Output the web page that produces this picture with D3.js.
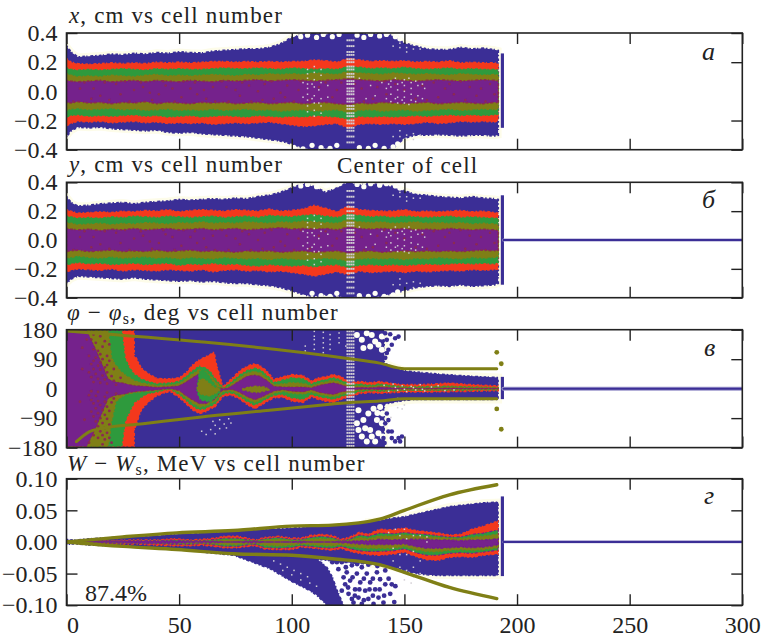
<!DOCTYPE html>
<html><head><meta charset="utf-8">
<script src="https://cdn.jsdelivr.net/npm/d3@7"></script>
<style>html,body{margin:0;padding:0;background:#fff}svg{display:block}text{font-family:"Liberation Serif",serif;fill:#222}</style>
</head><body><div id="chart"></div>
<script>
// ---------- tick labels ----------
const cellTicks = [0,50,100,150,200,250,300];
const xyTicks = [-0.4,-0.2,0,0.2,0.4];
const phaseTicks = [-180,-90,0,90,180];
const energyTicks = [-0.10,-0.05,0,0.05,0.10];

// ---------- panel a / b : transverse coordinates ----------
const xyCells = [0,2,5,10,15,20,25,30,35,40,45,50,55,60,65,70,75,80,85,90,95,100,105,110,115,120,125,130,135,140,145,150,155,160,165,170,175,180,185,190,191.6];
const xBlueUp = [.31,.27,.235,.24,.245,.255,.25,.26,.255,.265,.26,.27,.265,.262,.275,.28,.285,.29,.29,.30,.325,.37,.39,.40,.39,.40,.40,.40,.39,.40,.38,.33,.31,.29,.285,.285,.30,.29,.295,.285,.28];
const xBlueLow = [-.31,-.27,-.245,-.25,-.245,-.255,-.26,-.265,-.27,-.265,-.28,-.285,-.28,-.29,-.295,-.30,-.305,-.31,-.32,-.33,-.34,-.36,-.39,-.40,-.39,-.40,-.40,-.40,-.40,-.40,-.39,-.32,-.30,-.30,-.295,-.30,-.305,-.30,-.30,-.305,-.30];
const xRedUp = [.225,.20,.19,.185,.19,.195,.19,.195,.19,.20,.195,.20,.195,.20,.205,.205,.20,.205,.20,.205,.20,.205,.205,.215,.21,.20,.225,.215,.205,.21,.205,.21,.20,.205,.20,.21,.195,.20,.195,.195,.19];
const xRedLow = [-.235,-.22,-.205,-.21,-.205,-.215,-.21,-.205,-.215,-.21,-.22,-.215,-.22,-.215,-.225,-.22,-.215,-.22,-.215,-.21,-.22,-.23,-.24,-.235,-.225,-.22,-.25,-.225,-.22,-.225,-.22,-.225,-.22,-.21,-.22,-.215,-.205,-.21,-.205,-.21,-.20];
const xGreenUp = [.16,.15,.145,.15,.145,.15,.155,.15,.145,.155,.15,.155,.15,.15,.155,.16,.155,.155,.16,.155,.15,.16,.155,.15,.155,.15,.17,.165,.155,.16,.155,.165,.155,.15,.155,.16,.15,.155,.15,.15,.145];
const xGreenLow = [-.175,-.165,-.16,-.17,-.165,-.17,-.165,-.16,-.17,-.165,-.175,-.17,-.165,-.175,-.17,-.165,-.17,-.175,-.165,-.17,-.175,-.17,-.175,-.165,-.17,-.175,-.19,-.17,-.175,-.17,-.175,-.17,-.165,-.17,-.165,-.16,-.165,-.16,-.165,-.16,-.155];
const xOliveUp = [.12,.11,.10,.105,.10,.11,.105,.10,.11,.115,.105,.11,.105,.11,.115,.11,.105,.115,.11,.12,.115,.12,.115,.125,.12,.115,.135,.125,.12,.115,.125,.12,.115,.12,.115,.11,.12,.115,.11,.115,.11];
const xOliveLow = [-.13,-.12,-.115,-.125,-.12,-.115,-.125,-.12,-.13,-.125,-.12,-.13,-.125,-.13,-.12,-.13,-.125,-.12,-.13,-.125,-.135,-.13,-.125,-.135,-.13,-.125,-.145,-.13,-.125,-.135,-.13,-.125,-.135,-.13,-.125,-.12,-.13,-.125,-.12,-.125,-.12];
const xPurpleUp = [.075,.07,.065,.07,.075,.065,.07,.075,.065,.075,.07,.065,.075,.07,.065,.075,.07,.075,.08,.07,.075,.08,.075,.07,.075,.08,.085,.08,.075,.07,.08,.075,.07,.075,.08,.075,.07,.075,.08,.075,.07];
const xPurpleLow = [-.075,-.08,-.07,-.08,-.075,-.085,-.075,-.08,-.07,-.085,-.075,-.08,-.085,-.075,-.08,-.075,-.085,-.08,-.075,-.085,-.08,-.075,-.085,-.08,-.075,-.085,-.09,-.08,-.085,-.075,-.08,-.085,-.08,-.075,-.085,-.08,-.075,-.08,-.085,-.075,-.08];

const yBlueUp = [.30,.26,.235,.24,.25,.255,.26,.25,.26,.265,.27,.28,.275,.28,.285,.28,.29,.285,.30,.31,.33,.36,.39,.37,.33,.36,.40,.38,.39,.38,.37,.34,.315,.31,.30,.295,.29,.30,.29,.285,.28];
const yBlueLow = [-.30,-.27,-.25,-.255,-.26,-.265,-.27,-.26,-.27,-.275,-.28,-.285,-.28,-.29,-.285,-.295,-.30,-.30,-.31,-.315,-.33,-.35,-.38,-.39,-.38,-.39,-.40,-.39,-.40,-.39,-.37,-.35,-.33,-.32,-.315,-.32,-.31,-.32,-.315,-.31,-.30];
const yRedUp = [.21,.20,.185,.19,.195,.19,.20,.195,.205,.20,.21,.195,.205,.21,.205,.20,.21,.205,.20,.215,.20,.205,.215,.24,.22,.195,.235,.21,.205,.20,.20,.21,.195,.20,.195,.20,.205,.195,.20,.19,.185];
const yRedLow = [-.22,-.21,-.20,-.205,-.21,-.20,-.215,-.205,-.21,-.215,-.205,-.21,-.215,-.205,-.22,-.21,-.205,-.215,-.21,-.22,-.215,-.225,-.235,-.25,-.235,-.22,-.24,-.215,-.225,-.22,-.215,-.225,-.215,-.22,-.215,-.21,-.215,-.205,-.21,-.205,-.20];
const yGreenUp = [.165,.16,.15,.155,.15,.16,.155,.165,.16,.155,.165,.16,.155,.16,.165,.155,.16,.165,.155,.17,.165,.16,.17,.175,.165,.155,.18,.17,.16,.165,.155,.165,.16,.155,.16,.165,.155,.16,.155,.15,.15];
const yGreenLow = [-.17,-.165,-.155,-.165,-.16,-.17,-.165,-.16,-.17,-.165,-.16,-.175,-.165,-.17,-.16,-.17,-.165,-.175,-.18,-.17,-.175,-.18,-.175,-.185,-.175,-.17,-.19,-.175,-.17,-.175,-.17,-.175,-.17,-.165,-.17,-.165,-.16,-.165,-.16,-.165,-.155];
const yOliveUp = [.12,.115,.105,.11,.115,.105,.115,.11,.12,.115,.11,.12,.115,.125,.115,.12,.115,.125,.12,.115,.125,.12,.13,.125,.12,.115,.14,.125,.12,.125,.115,.12,.125,.115,.12,.115,.12,.11,.115,.11,.105];
const yOliveLow = [-.125,-.12,-.11,-.12,-.125,-.115,-.125,-.12,-.115,-.125,-.12,-.13,-.12,-.125,-.13,-.12,-.125,-.13,-.125,-.135,-.125,-.13,-.135,-.13,-.125,-.13,-.145,-.13,-.125,-.13,-.125,-.135,-.125,-.13,-.12,-.125,-.13,-.12,-.125,-.12,-.115];
const yPurpleUp = [.08,.075,.07,.075,.065,.075,.07,.08,.07,.075,.08,.07,.075,.08,.07,.075,.08,.07,.075,.08,.085,.075,.08,.075,.08,.07,.09,.08,.075,.08,.075,.08,.07,.075,.07,.08,.075,.07,.075,.07,.065];
const yPurpleLow = [-.08,-.075,-.07,-.08,-.075,-.07,-.08,-.075,-.08,-.07,-.08,-.075,-.07,-.08,-.075,-.08,-.085,-.075,-.08,-.075,-.085,-.08,-.075,-.085,-.08,-.075,-.09,-.08,-.075,-.085,-.08,-.075,-.08,-.075,-.08,-.075,-.08,-.075,-.07,-.075,-.07];

const xyHoles = [[101,.395],[104,.375],[107,.385],[111,.37],[114,.39],[118,.375],[121,.39],[129,.385],[132,.37],[135,.39],[139,.38],[142,.39],[146,.375],[148,.36],[101,-.385],[105,-.395],[109,-.37],[113,-.385],[117,-.39],[120,-.37],[130,-.385],[134,-.39],[137,-.37],[141,-.39],[145,-.38],[147,-.36]];
const xyGrey = [[107,.15],[107,.12],[107,.09],[107,.05],[107,.02],[107,-.02],[107,-.06],[107,-.1],[107,-.14],[110,.17],[110,.13],[110,.08],[110,.03],[110,-.03],[110,-.08],[110,-.13],[110,-.17],[113,.15],[113,.11],[113,.06],[113,-.05],[113,-.1],[113,-.15],[116,.04],[116,-.04],[130,.09],[133,-.05],[135,.04],[137,-.03],[140,.06],[142,.02],[142,-.05],[144,.07],[144,.03],[144,-.02],[144,-.07],[147,.05],[147,.01],[147,-.04],[147,-.08],[150,.08],[150,.04],[150,0],[150,-.04],[150,-.08],[153,.06],[153,.02],[153,-.02],[153,-.06],[156,.04],[156,-.03],[159,.02],[145,.31],[148,.3],[151,.3],[154,.29],[157,.29],[145,-.31],[148,-.31],[151,-.3],[154,-.29],[157,-.3],[148,.33],[151,.27],[148,-.27],[154,-.33],[105,.06],[105,-.04],[109,.05],[109,-.05],[112,.01],[112,-.08],[146,.09],[149,.06],[149,-.06],[152,.09],[152,-.09],[155,.07],[155,-.07],[158,.05],[158,-.05],[143,.05],[146,-.05]];
const xyMaroon = [[8,.06],[15,-.03],[22,.05],[30,.01],[38,-.06],[44,.04],[52,.07],[58,-.02],[65,.03],[72,-.07],[78,.06],[85,0],[92,-.05],[98,.04],[104,.07],[118,-.04],[122,.06],[132,-.07],[138,.03],[146,.05],[160,-.06],[168,.02],[175,.07],[182,-.03],[188,.05],[3,-.07],[12,.02],[19,-.06],[26,.07],[34,.03],[41,-.02],[48,-.07],[55,.02],[62,-.05],[69,.07],[75,.01],[82,-.07],[88,.05],[95,-.01],[101,-.07],[112,.03],[128,.05],[142,-.02],[155,-.05],[163,.06],[172,-.02],[179,.03],[186,-.07],
[6,.02],[11,-.05],[17,.06],[24,-.02],[28,-.07],[33,.06],[37,-.01],[43,.07],[47,.02],[51,-.04],[57,.06],[61,.01],[66,-.07],[71,.03],[77,-.03],[81,.04],[87,-.06],[91,.07],[97,-.04],[103,.01],[108,-.06],[115,.06],[120,.01],[131,.02],[136,-.05],[141,.07],[150,.01],[158,.04],[165,-.04],[170,.05],[177,-.06],[184,.02],[190,-.02]];
const xColumn = [-.27,-.25,-.22,-.2,-.17,-.15,-.12,-.1,-.07,-.05,-.02,0,.02,.05,.07,.1,.12,.15,.17,.2,.22,.25,.27,.31,-.31,.35,-.35];
const yColumn = [-.37,-.33,-.29,-.26,-.23,-.2,-.17,-.15,-.12,-.1,-.07,-.05,-.02,0,.02,.05,.07,.1,.12,.15,.17,.2,.23,.26,.3,.34];

// ---------- panel c : phase ----------
const phaseCells = [0,9,13,18.5,20,22,24.5,26,28,30,
 30.1,31,33,35,37,40,43,46,50,53,
 56,59,62,64,65.5,66.5,68,69.5,72,74,
 77,80,83.5,86,89,92,96,100,105,108.8,
 112,115,118.5,122,125.8,130,135,139,145,150,
 160,170,180,191.6];
const phaseRedUp = [177,177,177,177,177,177,177,177,177,177,
 100,93,65,52,43,32,30,30,33,48,
 72,88,98,105,112,75,40,6,22,35,
 55,68,76,70,53,28,36,43,40,23,
 33,36,43,36,18,22,18,22,15,12,
 13,17,12,8];
const phaseRedLow = [-177,-177,-177,-177,-177,-177,-177,-177,-177,-177,
 -125,-108,-68,-50,-38,-22,-14,-8,-27,-45,
 -65,-76,-70,-60,-58,-50,-36,-24,-20,-22,
 -32,-48,-61,-52,-39,-28,-26,-38,-42,-25,
 -33,-38,-42,-32,-25,-15,-12,-14,-12,-10,
 -10,-9,-8,-6];
const phaseGreenUp = [177,177,177,177,177,177,177,93,63,45,
 44,40,30,24,20,15,16,17,22,36,
 55,68,62,50,35,25,15,2,12,25,
 42,55,62,58,40,18,26,33,30,14,
 23,27,33,26,11,14,10,14,9,6,
 6,7,5,3];
const phaseGreenLow = [-177,-177,-177,-177,-177,-177,-177,-100,-70,-43,
 -42,-38,-28,-18,-14,-10,-5,-1,-17,-35,
 -53,-64,-60,-52,-48,-42,-26,-16,-12,-14,
 -24,-38,-50,-42,-30,-20,-17,-28,-32,-17,
 -24,-28,-32,-24,-17,-9,-6,-8,-7,-5,
 -5,-5,-4,-3];
const phaseOliveUp = [177,177,177,177,93,70,50,42,33,25,
 24,22,18,15,13,9,10,11,15,28,
 45,58,50,38,26,18,8,1,6,18,
 34,47,52,48,32,12,14,18,16,8,
 16,20,26,18,7,8,6,9,5,3,
 3,4,3,2];
const phaseOliveLow = [-177,-177,-177,-177,-100,-38,-25,-18,-14,-12,
 -12,-11,-9,-8,-8,-6,-3,0,-12,-28,
 -44,-56,-52,-44,-40,-34,-18,-10,-7,-8,
 -18,-30,-42,-34,-24,-14,-8,-14,-16,-10,
 -17,-21,-25,-17,-11,-5,-3,-5,-4,-3,
 -3,-3,-2,-2];
const phasePurpleUp = [177,177,120,30,25,20,18,16,12,10,
 10,9,8,7,6,4,5,6,9,20,
 34,46,20,12,8,5,2,0,3,12,
 25,38,42,38,25,7,5,5,5,3,
 10,14,18,12,3,4,3,5,3,1,
 1,2,1,1];
const phasePurpleLow = [-177,-177,-120,-30,-25,-20,-18,-16,-12,-10,
 -10,-9,-8,-7,-6,-4,-2,0,-6,-22,
 -35,-46,-46,-38,-34,-28,-12,-5,-3,-3,
 -12,-24,-34,-28,-18,-8,-3,-8,-10,-3,
 -11,-15,-18,-10,-6,-2,-2,-3,-2,-1,
 -1,-1,-1,-1];
const phaseBlueCells = [0,128,134,141,141.1,145,150,155,165,175,185,191.6];
const phaseBlueUp = [180,180,180,180,78,66,55,51,45,40,36,34];
const phaseBlueLow = [-180,-180,-180,-180,-48,-42,-36,-33,-33,-33,-33,-33];
const foldCells = [58,59,60,62,64,66,68];
const foldGreenUp = [0,50,58,50,30,10,0];
const foldGreenLow = [-5,-30,-35,-38,-40,-28,-12];
const foldOliveUp = [0,25,30,25,12,3,0];
const foldOliveLow = [-3,-12,-18,-20,-22,-14,-6];
const eyeCells = [78,81,84,87,90];
const eyeUp = [-1,5,7,6,0];
const eyeLow = [-3,-8,-12,-9,-3];
const phaseSepUpCells = [0,124,139,150,191];
const phaseSepUp = [176,93,78,61,61];
const phaseSepLowCells = [4.4,10,15,34,59,89,118,126,139,150,191];
const phaseSepLow = [-162,-132,-122,-107,-87,-67,-47,-42,-38,-31,-31];
const phaseLoose = [[191,111],[193,76],[191,-62],[193,-124]];
const phaseHoles = [[128.9,164],[131.1,149],[133.3,169],[135.5,164],[137,144],[140,159],[138.5,134],[134.8,129],[131.8,124],[140,119],[129.6,-66],[131.8,-96],[128.9,-106],[134,-76],[136.3,-61],[137.8,-96],[134.8,-126],[131.1,-146],[138.5,-136],[137,-161],[133.3,-161],[139.2,-56],[129.6,-126],[132.6,-121],[135.5,-146],[138,-74],[140,-106],[140.4,-146],[140.4,-76]];
const phaseDots = [[142.2,149],[144.4,134],[142.9,119],[145.9,154],[147.4,159],[141.5,169],[143.7,166],[142.2,109],[141.5,94],[141.5,-106],[142.9,-131],[140.7,-151],[144.4,-151],[147.4,-151],[145.9,-161],[142.2,-76],[142.9,-96],[141.2,-166],[148.1,-161],[144.4,-131],[148.9,-146]];
const phaseGrey = [[65,-100],[68,-95],[72,-92],[66,-112],[70,-108],[73,-105],[64,-125],[68,-122],[71,-120],[62,-140],[66,-138],[60,-130],[110,175],[110,160],[110,150],[110,135],[110,120],[114,172],[114,155],[114,140],[114,125],[114,110],[117,165],[117,150],[117,135],[117,120],[121,170],[121,155],[121,140],[106,130],[106,115],[124,130],[141,10],[143,-8],[145,14],[147,-5],[149,9],[151,-9],[153,7],[155,-4],[157,12],[159,-7],[162,5],[146,4],[150,-2],[154,3],[158,-2],[165,9],[168,-6],[172,-4],[147,-30],[149,-62],[147,-58],[144,-88],[150,-50]];
const phaseMaroon = [[9,150],[11,150],[13,140],[16,128],[12,120],[14,115],[10,100],[13,95],[16,90],[19,85],[11,75],[14,70],[17,65],[21,60],[10,50],[13,45],[16,40],[20,38],[24,33],[12,20],[15,18],[18,15],[22,12],[10,-20],[13,-22],[17,-25],[21,-30],[12,-45],[15,-50],[18,-55],[11,-70],[14,-75],[17,-80],[13,-100],[16,-105],[19,-110],[12,-125],[15,-130],[18,-135],[14,-150],[17,-155],[20,-165],[10,-165],[7,60],[6,-40],[8,-95],[7,125],
[12,165],[15,160],[17,145],[19,135],[15,105],[18,100],[12,85],[15,80],[18,72],[12,60],[15,58],[18,50],[11,35],[14,30],[17,28],[21,24],[11,-8],[14,-10],[18,-12],[22,-15],[11,-35],[14,-38],[17,-40],[20,-42],[13,-60],[16,-65],[19,-68],[12,-85],[15,-90],[18,-92],[14,-115],[17,-120],[16,-142],[12,-142],[19,-150],[16,-170]];
const phaseColumn = [-175,-165,-155,-145,-135,-125,-115,-105,-95,-85,-75,-65,-55,-45,-35,-25,-15,-5,5,15,25,35,45,55,65,75,85,95,105,115,125,135,145,155,165,175];

// ---------- panel d : energy ----------
const energyCells = [0,3,10,20,30,40,48,55,60,66,
 70,76,80,84,88,94,100,104,108,113,
 118,122,126,130,134,139,145,150,155,160,
 165,170,175,180,185,191.6];
const energyBlueUp = [.004,.003,.005,.007,.008,.010,.012,.013,.014,.015,
 .016,.017,.018,.019,.020,.021,.022,.023,.024,.025,
 .026,.027,.028,.030,.032,.034,.038,.040,.044,.048,
 .052,.056,.058,.060,.062,.063];
const energyBlueLow = [-.004,-.003,-.005,-.006,-.007,-.009,-.011,-.012,-.014,-.015,
 -.016,-.018,-.019,-.020,-.022,-.024,-.025,-.026,-.027,-.028,
 -.030,-.032,-.033,-.034,-.035,-.037,-.04,-.045,-.050,-.052,
 -.053,-.053,-.053,-.053,-.053,-.053];
const energyRedUp = [.002,.002,.002,.002,.003,.003,.005,.003,.004,.006,
 .009,.009,.006,.003,.007,.009,.006,.006,.010,.012,
 .010,.004,.008,.015,.012,.020,.019,.022,.018,.016,
 .014,.011,.012,.020,.025,.033];
const energyRedLow = [-.001,-.001,-.002,-.003,-.003,-.005,-.006,-.006,-.005,-.007,
 -.009,-.009,-.007,-.006,-.011,-.012,-.012,-.008,-.009,-.011,
 -.013,-.010,-.015,-.018,-.020,-.021,-.019,-.016,-.023,-.028,
 -.029,-.024,-.023,-.024,-.021,-.019];
const energyGreenUp = [.001,.001,.001,.001,.002,.002,.003,.002,.002,.004,
 .006,.006,.004,.002,.005,.007,.004,.004,.007,.009,
 .007,.002,.005,.011,.009,.014,.013,.015,.013,.012,
 .010,.008,.008,.012,.014,.019];
const energyGreenLow = [-.001,-.001,-.001,-.002,-.002,-.003,-.004,-.004,-.003,-.005,
 -.007,-.007,-.005,-.004,-.009,-.010,-.009,-.006,-.007,-.009,
 -.010,-.007,-.011,-.014,-.015,-.015,-.014,-.011,-.017,-.021,
 -.021,-.018,-.017,-.018,-.016,-.013];
const energyOliveUp = [.0005,.0005,.001,.001,.001,.001,.002,.001,.001,.002,
 .003,.003,.002,.001,.003,.004,.002,.002,.004,.005,
 .004,.001,.003,.007,.005,.009,.009,.011,.009,.008,
 .007,.006,.005,.007,.009,.012];
const energyOliveLow = [-.0005,-.0005,-.001,-.001,-.001,-.002,-.002,-.002,-.002,-.003,
 -.004,-.004,-.003,-.002,-.005,-.006,-.005,-.003,-.004,-.005,
 -.006,-.004,-.007,-.009,-.010,-.010,-.010,-.007,-.012,-.015,
 -.015,-.013,-.012,-.013,-.012,-.009];
const energyPurpleUp = [.001,.001,.001,.001,.0015,.0015,.002,.001,.001,.001,
 0,0,.001,.001,0,0,0,.001,0,0,
 0,.001,.001,.002,.002,.004,.003,.004,.004,.004,
 .003,.003,.002,.003,.003,.005];
const energyPurpleLow = [-.001,-.001,-.001,-.001,-.0015,-.002,-.002,-.001,-.001,-.001,
 0,0,-.001,-.001,0,0,0,-.001,0,0,
 0,-.001,-.002,-.003,-.004,-.004,-.004,-.003,-.007,-.010,
 -.010,-.009,-.008,-.009,-.008,-.005];
const fanCells = [60,74,81,90.4,99.3,108,111,115.6,118,120,123];
const fanUp = [-.014,-.018,-.019,-.021,-.023,-.025,-.026,-.04,-.055,-.075,-.10];
const fanLow = [-.016,-.021,-.03,-.0425,-.0612,-.0771,-.084,-.10,-.10,-.10,-.10];
const energyDots = [[122.2,-.032],[126.7,-.037],[131.1,-.04],[124.4,-.048],[128.9,-.05],[133.3,-.05],[137.8,-.048],[141.5,-.045],[125.9,-.061],[130.4,-.064],[134.8,-.064],[139.2,-.059],[123.7,-.067],[128.1,-.075],[132.6,-.077],[137,-.075],[141.5,-.067],[125.2,-.082],[129.6,-.088],[134,-.09],[138.5,-.088],[143.7,-.082],[127.4,-.096],[131.1,-.098],[136.3,-.098],[140.7,-.096],[122.2,-.077],[144.4,-.067],[120.7,-.043],[126.7,-.09],[124,-.04],[129,-.035],[134,-.036],[138,-.038],[123,-.056],[127,-.056],[132,-.058],[136,-.058],[130,-.075],[134.5,-.075],[139,-.075],[125,-.072],[132,-.092],[128,-.085],[136,-.085],[141,-.085],[146,-.07],[145.5,-.095],[143,-.058],[120,-.032],[118,-.032]];
const energyGrey = [[92,-.03],[95,-.035],[98,-.04],[101,-.045],[104,-.05],[107,-.055],[96,-.045],[100,-.052],[104,-.06],[108,-.065],[111,-.07],[145,-.01],[145,-.03],[148,.01],[148,-.02],[148,-.04],[151,.005],[151,-.02],[151,-.045],[154,.01],[154,-.015],[154,-.04],[154,-.055],[157,.01],[157,-.03],[157,-.05],[160,.0],[160,.008],[143,.015],[146,.02],[150,-.06],[153,-.065],[150,.02]];

const stripTop = [.26,.31,36,.072];
const stripBottom = [-.25,-.31,-32,-.054];
const energySepCells = [0,25,49,74,100,118,139,150,170,191];
const energySepUp = [0,.008,.0144,.018,.025,.0266,.036,.05,.0745,.0905];
const energySepLow = [0,-.007,-.012,-.0186,-.021,-.0266,-.036,-.048,-.072,-.0895];

// ---------- colours and layout ----------
const BLUE='#3a2f96',RED='#f4391f',GREEN='#2f9a3e',OLIVE='#7f7f14',PURPLE='#74208c',MAROON='#8b2a52',CREAM='#fdfce9',GREY='#d2cdd4',HOLE='#fffff6';
const ROUGH='1.6 2.2 2.6 1.4 1.2 2.8 3 1.8';
const W=762,H=639;
const x = d3.scaleLinear([0,300],[66.5,742.3]);
const svg = d3.select('#chart').append('svg').attr('width',W).attr('height',H);
const defs = svg.append('defs');
defs.append('filter').attr('id','soft').attr('x','-5%').attr('y','-5%').attr('width','110%').attr('height','110%')
  .append('feGaussianBlur').attr('stdDeviation',0.7);

function band(g,cells,up,low,color,opt={}){
  const rows=cells.map((c,i)=>[c,up[i],low[i]]);
  const a=d3.area().x(d=>x(d[0])).y0(d=>g.y(d[2])).y1(d=>g.y(d[1]));
  g.append('path').attr('d',a(rows)).attr('fill',color)
   .attr('stroke',opt.stroke||color).attr('stroke-width',opt.sw==null?1.6:opt.sw)
   .attr('stroke-dasharray',opt.dash||ROUGH);
}
function dots(g,list,color,r){
  g.append('g').selectAll('circle').data(list).join('circle')
   .attr('cx',d=>x(d[0])).attr('cy',d=>g.y(d[1])).attr('r',r).attr('fill',color);
}
function squares(g,list,color,s){
  g.append('g').selectAll('rect').data(list).join('rect')
   .attr('x',d=>x(d[0])-s/2).attr('y',d=>g.y(d[1])-s/2).attr('width',s).attr('height',s).attr('fill',color);
}
function curve(g,cells,vals,color,w){
  g.append('path').attr('d',d3.line().curve(d3.curveMonotoneX).x(d=>x(d[0])).y(d=>g.y(d[1]))(cells.map((c,i)=>[c,vals[i]])))
   .attr('fill','none').attr('stroke',color).attr('stroke-width',w).attr('stroke-linejoin','round').attr('stroke-linecap','round');
}
function column(g,cols,vals,color){
  squares(g,cols.flatMap(c=>vals.map(v=>[c,v])),color,1.9);
}
function halo(g,cells,up,low,w){
  const rows=cells.map((c,i)=>[c,up[i],low[i]]);
  const a=d3.area().x(d=>x(d[0])).y0(d=>g.y(d[2])).y1(d=>g.y(d[1]));
  g.append('path').attr('d',a(rows)).attr('fill',CREAM).attr('stroke',CREAM).attr('stroke-width',w);
}
function strip(g,i){
  g.append('rect').attr('x',x(192.8)).attr('width',x(194.2)-x(192.8))
   .attr('y',g.y(stripTop[i])).attr('height',g.y(stripBottom[i])-g.y(stripTop[i])).attr('fill',BLUE);
}
function baseline(g,w,haloW){
  const line=[[194,0],[300,0]];
  curve(g,line.map(d=>d[0]),line.map(d=>d[1]),'#9c97cc',haloW);
  curve(g,line.map(d=>d[0]),line.map(d=>d[1]),BLUE,w);
}
function styleAxis(a){
  a.select('.domain').remove();
  a.selectAll('line').attr('stroke','#222').attr('stroke-width',1.4);
  a.selectAll('text').attr('font-size',24).attr('font-family','"Liberation Serif",serif').attr('fill','#222');
}

function panel(id,top,bottom,domain,ticks,fmt,draw,showX){
  const y=d3.scaleLinear(domain,[bottom,top]);
  const inner=ticks.filter(t=>t!==0);
  const left=svg.append('g').attr('transform',`translate(${x(0)},0)`)
    .call(d3.axisLeft(y).tickValues(ticks).tickSizeInner(-11).tickSizeOuter(0).tickPadding(9).tickFormat(fmt));
  styleAxis(left);
  defs.append('clipPath').attr('id','clip'+id).append('rect')
    .attr('x',x(0)).attr('y',top).attr('width',x(300)-x(0)).attr('height',bottom-top);
  const g=svg.append('g').attr('clip-path',`url(#clip${id})`).append('g').attr('filter','url(#soft)');
  g.y=y;
  draw(g);
  styleAxis(svg.append('g').attr('transform',`translate(${x(300)},0)`)
    .call(d3.axisRight(y).tickValues(inner).tickSizeInner(-11).tickSizeOuter(0).tickFormat('')));
  styleAxis(svg.append('g').attr('transform',`translate(0,${top})`)
    .call(d3.axisTop(x).tickValues(cellTicks).tickSizeInner(-11).tickSizeOuter(0).tickFormat('')));
  const bot=svg.append('g').attr('transform',`translate(0,${bottom})`)
    .call(d3.axisBottom(x).tickValues(cellTicks).tickSizeInner(-11).tickSizeOuter(0).tickPadding(11).tickFormat(showX?d3.format('d'):''));
  styleAxis(bot);
  bot.selectAll('.tick').filter(d=>d===0).select('text').attr('dx',6);
  svg.append('rect').attr('x',x(0)).attr('y',top).attr('width',x(300)-x(0)).attr('height',bottom-top)
    .attr('fill','none').attr('stroke','#222').attr('stroke-width',1.6);
}

function xyPanel(g,cols,U,col){
  const [bu,bl,ru,rl,gu,gl,ou,ol,pu,pl]=U;
  halo(g,cols,bu,bl,7);
  band(g,cols,bu,bl,BLUE,{sw:2});
  dots(g,xyHoles,HOLE,2.6);
  band(g,cols,ru,rl,RED);
  band(g,cols,gu,gl,GREEN);
  band(g,cols,ou,ol,OLIVE,{stroke:OLIVE});
  band(g,cols,pu,pl,PURPLE,{stroke:MAROON,sw:1.6});
  dots(g,xyMaroon,MAROON,1.25);
  squares(g,xyGrey,GREY,1.5);
  column(g,[124.7,125.6,126.5,127.4],col,GREY);
}

panel('a',33,149.7,[-0.4,0.4],xyTicks,d3.format('.1f'),g=>{
  xyPanel(g,xyCells,[xBlueUp,xBlueLow,xRedUp,xRedLow,xGreenUp,xGreenLow,xOliveUp,xOliveLow,xPurpleUp,xPurpleLow],xColumn);
  strip(g,0);
},false);
panel('b',182.3,297.7,[-0.4,0.4],xyTicks,d3.format('.1f'),g=>{
  xyPanel(g,xyCells,[yBlueUp,yBlueLow,yRedUp,yRedLow,yGreenUp,yGreenLow,yOliveUp,yOliveLow,yPurpleUp,yPurpleLow],yColumn);
  strip(g,1);
  baseline(g,2,3);
},false);
panel('c',329.7,447.6,[-180,180],phaseTicks,d3.format('d'),g=>{
  halo(g,phaseBlueCells,phaseBlueUp,phaseBlueLow,8);
  band(g,phaseBlueCells,phaseBlueUp,phaseBlueLow,BLUE,{sw:1.5});
  dots(g,phaseHoles,HOLE,3);
  dots(g,phaseDots,BLUE,2.3);
  band(g,phaseCells,phaseRedUp,phaseRedLow,RED);
  band(g,phaseCells,phaseGreenUp,phaseGreenLow,GREEN);
  band(g,phaseCells,phaseOliveUp,phaseOliveLow,OLIVE);
  band(g,phaseCells,phasePurpleUp,phasePurpleLow,PURPLE,{stroke:MAROON,sw:1});
  band(g,foldCells,foldGreenUp,foldGreenLow,GREEN);
  band(g,foldCells,foldOliveUp,foldOliveLow,OLIVE);
  band(g,eyeCells,eyeUp,eyeLow,OLIVE);
  dots(g,phaseMaroon,MAROON,1.4);
  squares(g,phaseGrey,GREY,1.5);
  column(g,[124.7,125.6,126.5,127.4],phaseColumn,GREY);
  curve(g,phaseSepUpCells,phaseSepUp,OLIVE,3);
  curve(g,phaseSepLowCells,phaseSepLow,OLIVE,3);
  dots(g,phaseLoose,OLIVE,2.4);
  strip(g,2);
  baseline(g,2,4);
},false);
panel('d',478.7,605.2,[-0.10,0.10],energyTicks,d3.format('.2f'),g=>{
  halo(g,energyCells.slice(24),energyBlueUp.slice(24),energyBlueLow.slice(24),7);
  band(g,fanCells,fanUp,fanLow,BLUE,{sw:1.5});
  dots(g,energyDots,BLUE,2.4);
  band(g,energyCells,energyBlueUp,energyBlueLow,BLUE,{sw:1.5});
  band(g,energyCells,energyRedUp,energyRedLow,RED);
  band(g,energyCells,energyGreenUp,energyGreenLow,GREEN,{stroke:PURPLE,sw:1.2});
  band(g,energyCells,energyOliveUp,energyOliveLow,OLIVE);
  band(g,energyCells,energyPurpleUp,energyPurpleLow,PURPLE);
  squares(g,energyGrey,GREY,1.5);
  curve(g,energySepCells,energySepUp,OLIVE,3.4);
  curve(g,energySepCells,energySepLow,OLIVE,3.4);
  strip(g,3);
  baseline(g,2.2,2.6);
},true);

// ---------- text ----------
function rich(x0,y0,parts){
  const t=svg.append('text').attr('x',x0).attr('y',y0).attr('font-size',23).attr('letter-spacing',1.15).attr('fill','#222').attr('xml:space','preserve');
  parts.forEach(p=>{
    const s=t.append('tspan').text(p.t);
    if(p.i) s.attr('font-style','italic');
    if(p.sub) s.attr('font-size',16).attr('dy',4);
    if(p.up) s.attr('dy',-4);
  });
}
rich(69,23,[{t:'x',i:1},{t:', cm vs cell number'}]);
rich(69,172,[{t:'y',i:1},{t:', cm vs cell number'}]);
rich(67,320,[{t:'φ',i:1},{t:' − '},{t:'φ',i:1},{t:'s',sub:1},{t:', deg vs cell number',up:1}]);
rich(67,471,[{t:'W',i:1},{t:' − '},{t:'W',i:1},{t:'s',sub:1},{t:', MeV vs cell number',up:1}]);
svg.append('text').attr('x',337).attr('y',173).attr('font-size',23).attr('letter-spacing',1.15).text('Center of cell');
svg.append('text').attr('x',85).attr('y',601).attr('font-size',24).text('87.4%');
const panelLetters=[['а',702,60],['б',702,208],['в',704,356],['г',704,504]];
svg.selectAll('.letter').data(panelLetters).join('text').attr('class','letter')
  .attr('x',d=>d[1]).attr('y',d=>d[2]).attr('font-size',26).attr('font-style','italic').text(d=>d[0]);
</script></body></html>
